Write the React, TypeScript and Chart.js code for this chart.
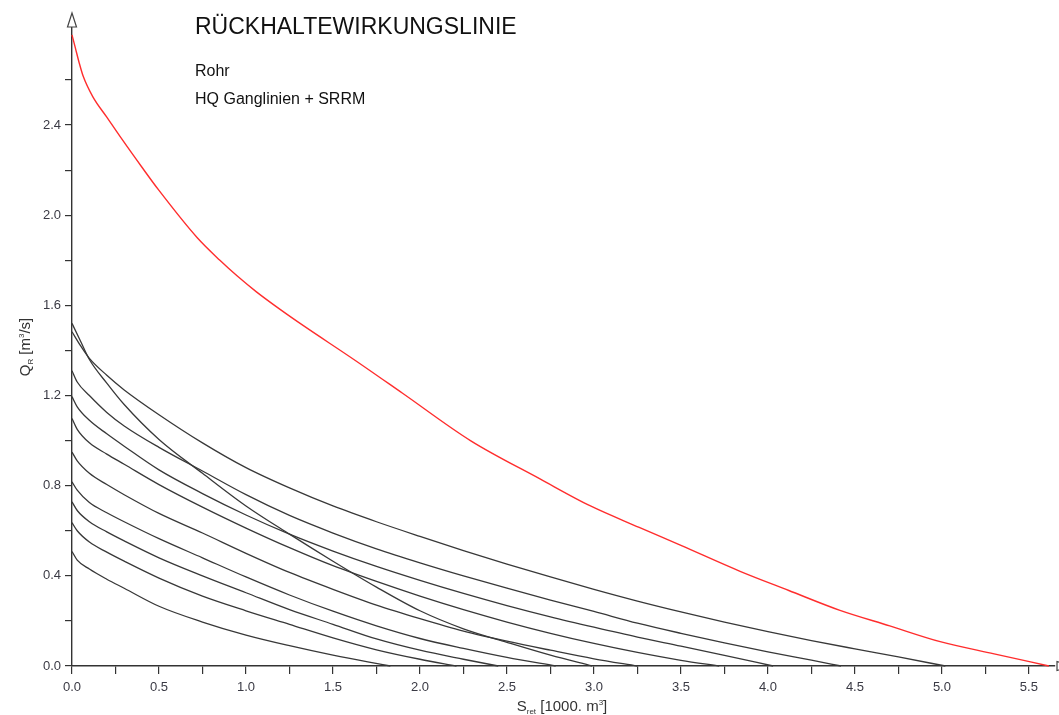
import React, { useEffect, useRef } from 'react';
import { Chart, registerables } from 'chart.js';

Chart.register(...registerables);

const FONT = '"Liberation Sans", Arial, sans-serif';

// Axis ticks
const xTickValues = [0, 0.25, 0.5, 0.75, 1.0, 1.25, 1.5, 1.75, 2.0, 2.25, 2.5, 2.75, 3.0, 3.25, 3.5, 3.75, 4.0, 4.25, 4.5, 4.75, 5.0, 5.25, 5.5];
const xTickLabels = ['0.0', '0.5', '1.0', '1.5', '2.0', '2.5', '3.0', '3.5', '4.0', '4.5', '5.0', '5.5'];
const yTickValues = [0, 0.2, 0.4, 0.6, 0.8, 1.0, 1.2, 1.4, 1.6, 1.8, 2.0, 2.2, 2.4, 2.6];
const yTickLabels = ['0.0', '0.4', '0.8', '1.2', '1.6', '2.0', '2.4'];

// Retention line (red)
const redS = [0, 0.02, 0.04, 0.065, 0.12, 0.2, 0.28, 0.4, 0.5, 0.72, 0.85, 0.95, 1.06, 1.2, 1.33, 1.62, 1.9, 2.29, 2.69, 2.98, 3.26, 3.5, 3.84, 4.12, 4.41, 4.7, 4.99, 5.3, 5.615];
const redQ = [2.80, 2.74, 2.68, 2.615, 2.525, 2.435, 2.345, 2.215, 2.11, 1.90, 1.80, 1.73, 1.66, 1.58, 1.51, 1.36, 1.21, 1.0, 0.83, 0.71, 0.615, 0.535, 0.42, 0.335, 0.248, 0.178, 0.108, 0.054, 0];

// Individual hydrograph curves (black)
const aS = [0, 0.05, 0.1, 0.2, 0.3, 0.5, 0.75, 1.0, 1.25, 1.5, 1.75, 2.0, 2.25, 2.5, 2.75, 2.99];
const aQ = [1.52, 1.44, 1.36, 1.255, 1.16, 1.005, 0.855, 0.71, 0.585, 0.465, 0.35, 0.245, 0.165, 0.105, 0.048, 0];

const bS = [0, 0.05, 0.1, 0.2, 0.3, 0.5, 0.75, 1.0, 1.25, 1.5, 1.75, 2.0, 2.25, 2.5, 2.75, 3.0, 3.25, 3.5, 3.75, 4.0, 4.25, 4.5, 4.75, 5.02];
const bQ = [1.483, 1.42, 1.365, 1.29, 1.225, 1.115, 0.99, 0.88, 0.79, 0.71, 0.64, 0.575, 0.512, 0.452, 0.395, 0.34, 0.288, 0.24, 0.195, 0.153, 0.113, 0.076, 0.04, 0];

const cS = [0, 0.03, 0.1, 0.2, 0.3, 0.5, 0.75, 1.0, 1.25, 1.5, 1.75, 2.0, 2.25, 2.5, 2.75, 3.0, 3.25, 3.5, 3.75, 4.0, 4.25, 4.42];
const cQ = [1.31, 1.26, 1.2, 1.125, 1.065, 0.97, 0.865, 0.76, 0.668, 0.59, 0.52, 0.458, 0.4, 0.345, 0.292, 0.242, 0.19, 0.145, 0.103, 0.063, 0.026, 0];

const dS = [0, 0.03, 0.1, 0.2, 0.3, 0.5, 0.75, 1.0, 1.25, 1.5, 1.75, 2.0, 2.25, 2.5, 2.75, 3.0, 3.25, 3.5, 3.75, 4.03];
const dQ = [1.195, 1.15, 1.09, 1.03, 0.975, 0.87, 0.765, 0.67, 0.585, 0.51, 0.442, 0.38, 0.322, 0.268, 0.218, 0.172, 0.128, 0.088, 0.047, 0];

const eS = [0, 0.03, 0.1, 0.2, 0.3, 0.5, 0.75, 1.0, 1.25, 1.5, 1.75, 2.0, 2.25, 2.5, 2.75, 3.0, 3.25, 3.5, 3.72];
const eQ = [1.098, 1.05, 0.99, 0.94, 0.895, 0.805, 0.705, 0.612, 0.525, 0.445, 0.375, 0.31, 0.25, 0.195, 0.145, 0.1, 0.06, 0.025, 0];

const fS = [0, 0.03, 0.1, 0.2, 0.3, 0.5, 0.75, 1.0, 1.25, 1.5, 1.75, 2.0, 2.25, 2.5, 2.75, 3.0, 3.25];
const fQ = [0.949, 0.91, 0.855, 0.805, 0.76, 0.677, 0.59, 0.5, 0.415, 0.34, 0.27, 0.21, 0.155, 0.11, 0.07, 0.032, 0];

const gS = [0, 0.03, 0.1, 0.2, 0.3, 0.5, 0.75, 1.0, 1.25, 1.5, 1.75, 2.0, 2.25, 2.5, 2.78];
const gQ = [0.817, 0.78, 0.725, 0.68, 0.64, 0.565, 0.48, 0.395, 0.315, 0.243, 0.178, 0.122, 0.078, 0.038, 0];

const hS = [0, 0.03, 0.1, 0.2, 0.3, 0.5, 0.75, 1.0, 1.25, 1.5, 1.75, 2.0, 2.25, 2.45];
const hQ = [0.728, 0.69, 0.64, 0.595, 0.555, 0.48, 0.4, 0.325, 0.25, 0.185, 0.12, 0.07, 0.03, 0];

const iS = [0, 0.03, 0.1, 0.2, 0.3, 0.5, 0.75, 1.0, 1.25, 1.5, 1.75, 2.0, 2.21];
const iQ = [0.636, 0.6, 0.55, 0.505, 0.465, 0.39, 0.31, 0.245, 0.185, 0.125, 0.072, 0.03, 0];

const jS = [0, 0.03, 0.1, 0.2, 0.3, 0.5, 0.75, 1.0, 1.25, 1.5, 1.7, 1.83];
const jQ = [0.508, 0.47, 0.43, 0.385, 0.345, 0.265, 0.195, 0.137, 0.09, 0.048, 0.018, 0];

const blackCurves = [
  [aS, aQ], [bS, bQ], [cS, cQ], [dS, dQ], [eS, eQ],
  [fS, fQ], [gS, gQ], [hS, hQ], [iS, iQ], [jS, jQ],
];

type Part = { t: string; size: number; dy: number };

function drawRich(ctx: CanvasRenderingContext2D, parts: Part[], cx: number, baseline: number) {
  let total = 0;
  for (const p of parts) {
    ctx.font = `${p.size}px ${FONT}`;
    total += ctx.measureText(p.t).width;
  }
  let x = cx - total / 2;
  ctx.textAlign = 'left';
  ctx.textBaseline = 'alphabetic';
  for (const p of parts) {
    ctx.font = `${p.size}px ${FONT}`;
    ctx.fillText(p.t, x, baseline + p.dy);
    x += ctx.measureText(p.t).width;
  }
}

const decorPlugin = {
  id: 'decor',
  afterDraw(chart: any) {
    const ctx: CanvasRenderingContext2D = chart.ctx;
    const area = chart.chartArea;
    ctx.save();
    // Title block
    ctx.fillStyle = '#111';
    ctx.textAlign = 'left';
    ctx.textBaseline = 'alphabetic';
    ctx.font = `23px ${FONT}`;
    ctx.fillText('RÜCKHALTEWIRKUNGSLINIE', 195, 34);
    ctx.font = `16px ${FONT}`;
    ctx.fillText('Rohr', 195, 76);
    ctx.fillText('HQ Ganglinien + SRRM', 195, 104);

    // Axis titles
    ctx.fillStyle = '#333';
    drawRich(ctx, [
      { t: 'S', size: 15, dy: 0 },
      { t: 'ret', size: 8, dy: 3 },
      { t: ' [1000. m', size: 15, dy: 0 },
      { t: '3', size: 8, dy: -6 },
      { t: ']', size: 15, dy: 0 },
    ], 562, 711);

    ctx.save();
    ctx.translate(30, 347);
    ctx.rotate(-Math.PI / 2);
    drawRich(ctx, [
      { t: 'Q', size: 15, dy: 0 },
      { t: 'R', size: 8, dy: 3 },
      { t: ' [m', size: 15, dy: 0 },
      { t: '3', size: 8, dy: -6 },
      { t: '/s]', size: 15, dy: 0 },
    ], 0, 0);
    ctx.restore();

    // Arrow heads
    ctx.lineWidth = 1.2;
    ctx.strokeStyle = '#444';
    ctx.fillStyle = '#fff';
    const ax = area.left;
    ctx.beginPath();
    ctx.moveTo(ax, 13);
    ctx.lineTo(ax - 4.5, 27);
    ctx.lineTo(ax + 4.5, 27);
    ctx.closePath();
    ctx.fill();
    ctx.stroke();

    const ay = area.bottom;
    ctx.beginPath();
    ctx.moveTo(1070, ay);
    ctx.lineTo(1057, ay - 4.5);
    ctx.lineTo(1057, ay + 4.5);
    ctx.closePath();
    ctx.fill();
    ctx.stroke();
    ctx.restore();
  },
};

const isIn = (labels: string[], v: number) => labels.includes(v.toFixed(1));

export default function App() {
  const canvasRef = useRef<HTMLCanvasElement | null>(null);

  useEffect(() => {
    const canvas = canvasRef.current;
    if (!canvas) return;

    const datasets: any[] = blackCurves.map(([s, q]) => ({
      data: s.map((x, i) => ({ x, y: q[i] })),
      borderColor: '#383838',
      borderWidth: 1.3,
      pointRadius: 0,
      showLine: true,
      fill: false,
      cubicInterpolationMode: 'monotone',
      clip: 6,
    }));
    datasets.push({
      data: redS.map((x, i) => ({ x, y: redQ[i] })),
      borderColor: 'rgb(255, 45, 45)',
      borderWidth: 1.4,
      pointRadius: 0,
      showLine: true,
      fill: false,
      cubicInterpolationMode: 'monotone',
      clip: 6,
    });

    const chart = new Chart(canvas, {
      type: 'scatter',
      data: { datasets },
      options: {
        animation: false,
        responsive: false,
        maintainAspectRatio: false,
        events: [],
        layout: { padding: { left: 0, top: 18, right: 4, bottom: 0 } },
        plugins: {
          legend: { display: false },
          title: { display: false },
          tooltip: { enabled: false },
        },
        scales: {
          x: {
            type: 'linear',
            position: 'bottom',
            min: 0,
            max: 5.65,
            border: { display: true, color: '#333', width: 1.4 },
            grid: { display: true, drawOnChartArea: false, drawTicks: true, tickLength: 8, color: '#333', lineWidth: 1.2 },
            ticks: {
              autoSkip: false,
              maxRotation: 0,
              padding: 6,
              color: '#3a3a44',
              font: { family: FONT, size: 13 },
              callback: (v: any) => (isIn(xTickLabels, Number(v)) ? Number(v).toFixed(1) : ''),
            },
            afterBuildTicks: (scale: any) => {
              scale.ticks = xTickValues.map((v) => ({ value: v }));
            },
            afterFit: (scale: any) => {
              scale.height = 49;
            },
          },
          y: {
            type: 'linear',
            position: 'left',
            min: 0,
            max: 2.875,
            border: { display: true, color: '#333', width: 1.4 },
            grid: { display: true, drawOnChartArea: false, drawTicks: true, tickLength: 7, color: '#333', lineWidth: 1.2 },
            ticks: {
              autoSkip: false,
              padding: 4,
              color: '#3a3a44',
              font: { family: FONT, size: 13 },
              callback: (v: any) => (isIn(yTickLabels, Number(v)) ? Number(v).toFixed(1) : ''),
            },
            afterBuildTicks: (scale: any) => {
              scale.ticks = yTickValues.map((v) => ({ value: v }));
            },
            afterFit: (scale: any) => {
              scale.width = 72;
            },
          },
        },
      },
      plugins: [decorPlugin],
    } as any);

    return () => {
      chart.destroy();
    };
  }, []);

  return (
    <div style={{ position: 'absolute', left: 0, top: 0, width: 1059, height: 715, background: '#fff' }}>
      <canvas ref={canvasRef} width={1059} height={715} style={{ display: 'block' }} />
    </div>
  );
}
